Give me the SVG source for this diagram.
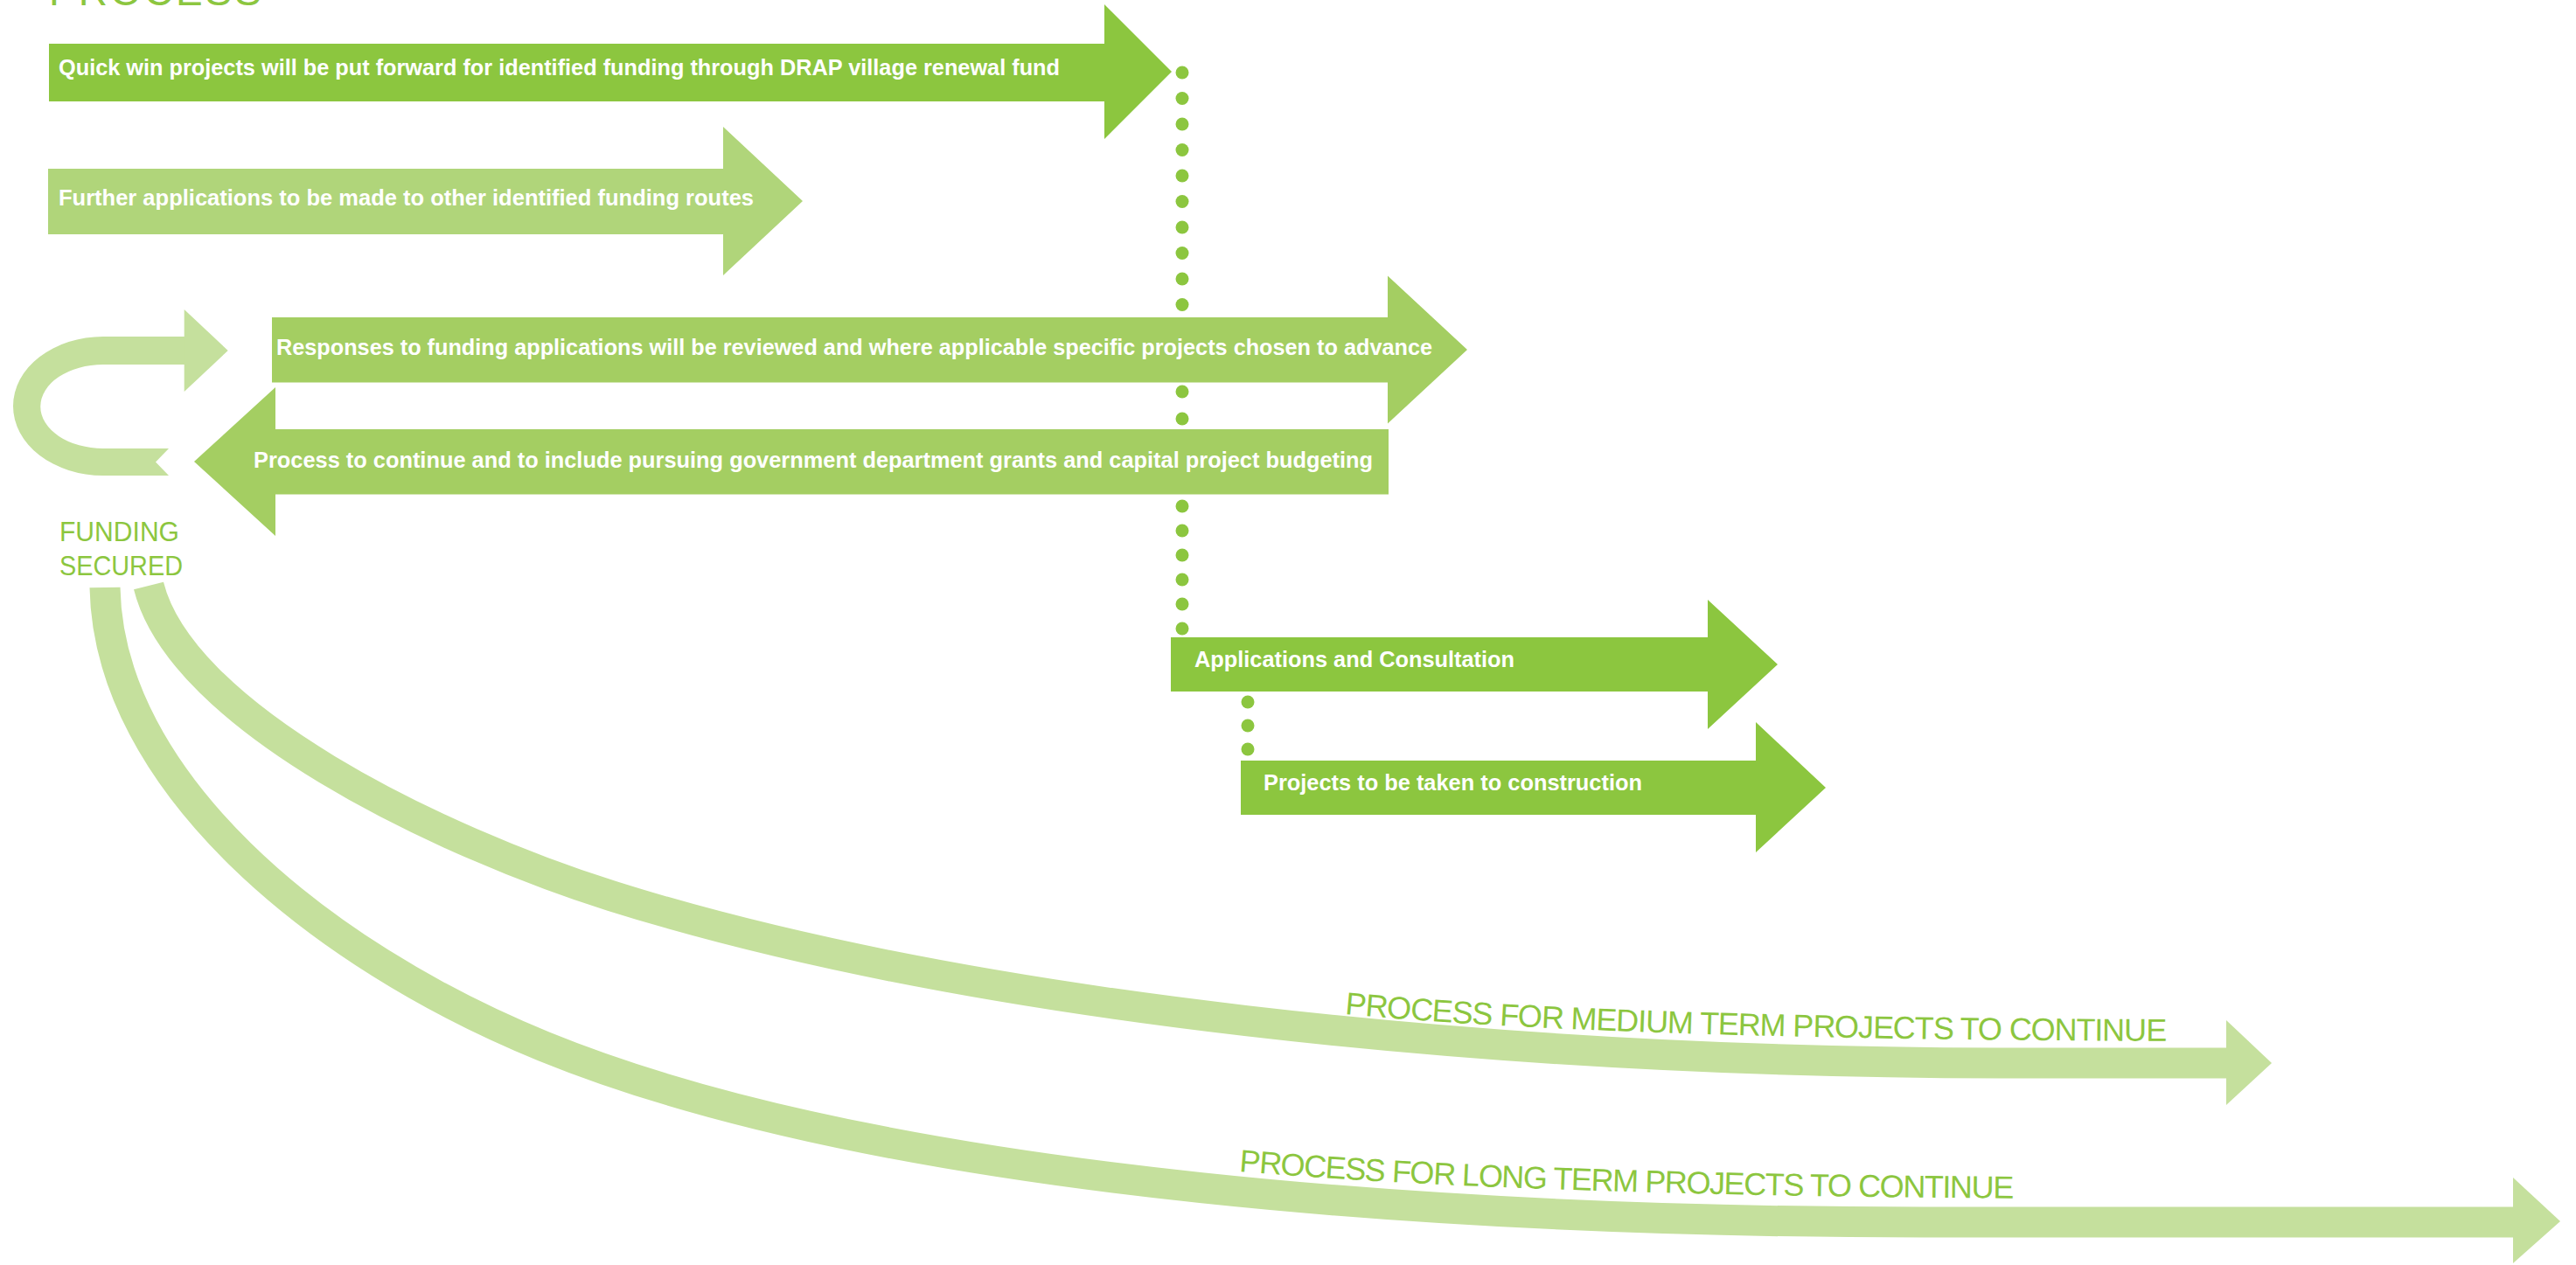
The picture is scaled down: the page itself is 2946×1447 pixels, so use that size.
<svg xmlns="http://www.w3.org/2000/svg" width="2946" height="1447" viewBox="0 0 2946 1447">
<style>
.dark{fill:#8CC63F}
.mid{fill:#A4CE62}
.light{fill:#B0D57A}
.pale{fill:#C5E09D}
.band{fill:none;stroke:#C5E09D;stroke-width:35}
.dot{fill:#8CC63F}
.lbl{font-family:'Liberation Sans',Arial,sans-serif;font-weight:bold;font-size:25px;fill:#ffffff}
.grn{font-family:'Liberation Sans',Arial,sans-serif;fill:#8CC63F}
</style>
<rect width="2946" height="1447" fill="#ffffff"/>

<g id="title">
<text class="grn" x="56" y="6" font-size="46" letter-spacing="3">PROCESS</text>
</g>

<g id="connectors">
<path class="band" d="M120,672 C124,892 362,1091 622,1197 C1022,1360 1700,1398 2200,1398 L2876,1398"/>
<polygon class="pale" points="2874,1347 2928,1397 2874,1445"/>
<path class="band" d="M170,670 C207.5,820 500,962 700,1025 C1100,1150.6 1700,1216 2300,1216 L2548,1216"/>
<polygon class="pale" points="2546,1167 2598,1216 2546,1264"/>
<g id="dots-main">
<circle class="dot" cx="1352" cy="83" r="7.5"/>
<circle class="dot" cx="1352" cy="112.5" r="7.5"/>
<circle class="dot" cx="1352" cy="142" r="7.5"/>
<circle class="dot" cx="1352" cy="171.5" r="7.5"/>
<circle class="dot" cx="1352" cy="201" r="7.5"/>
<circle class="dot" cx="1352" cy="230.5" r="7.5"/>
<circle class="dot" cx="1352" cy="260" r="7.5"/>
<circle class="dot" cx="1352" cy="289.5" r="7.5"/>
<circle class="dot" cx="1352" cy="319" r="7.5"/>
<circle class="dot" cx="1352" cy="348.5" r="7.5"/>
<circle class="dot" cx="1352" cy="448" r="7.5"/>
<circle class="dot" cx="1352" cy="479" r="7.5"/>
<circle class="dot" cx="1352" cy="579" r="7.5"/>
<circle class="dot" cx="1352" cy="607" r="7.5"/>
<circle class="dot" cx="1352" cy="635" r="7.5"/>
<circle class="dot" cx="1352" cy="663" r="7.5"/>
<circle class="dot" cx="1352" cy="691" r="7.5"/>
<circle class="dot" cx="1352" cy="719" r="7.5"/>
</g>
<g id="dots-second">
<circle class="dot" cx="1427" cy="803" r="7.5"/>
<circle class="dot" cx="1427" cy="830" r="7.5"/>
<circle class="dot" cx="1427" cy="857" r="7.5"/>
</g>
</g>

<g id="loop">
<path class="pale" d="M211,385 L118,385 A103,79.5 0 0 0 118,544 L193,544 L178,528.5 L193,513 L118,513 A71,47.5 0 0 1 118,417 L211,417 Z"/>
<polygon class="pale" points="210.7,354 260.7,401 210.7,448"/>
</g>

<g id="funding-secured">
<text class="grn" x="68" y="619" font-size="32" textLength="137" lengthAdjust="spacingAndGlyphs">FUNDING</text>
<text class="grn" x="68" y="658" font-size="32" textLength="141" lengthAdjust="spacingAndGlyphs">SECURED</text>
</g>

<g id="arrow1">
<polygon class="dark" points="56,50 1263,50 1263,5 1340,82 1263,159 1263,116 56,116"/>
<text class="lbl" x="67" y="86" textLength="1145" lengthAdjust="spacingAndGlyphs">Quick win projects will be put forward for identified funding through DRAP village renewal fund</text>
</g>

<g id="arrow2">
<polygon class="light" points="55,193 827,193 827,145 918,230 827,315 827,268 55,268"/>
<text class="lbl" x="67" y="235" textLength="795" lengthAdjust="spacingAndGlyphs">Further applications to be made to other identified funding routes</text>
</g>

<g id="arrow3">
<polygon class="mid" points="311,363 1587,363 1587,315.5 1678,400 1587,484.5 1587,437.5 311,437.5"/>
<text class="lbl" x="316" y="406" textLength="1322" lengthAdjust="spacingAndGlyphs">Responses to funding applications will be reviewed and where applicable specific projects chosen to advance</text>
</g>

<g id="arrow4">
<polygon class="mid" points="1588,491 315,491 315,443 222,528 315,613 315,565.5 1588,565.5"/>
<text class="lbl" x="290" y="535" textLength="1280" lengthAdjust="spacingAndGlyphs">Process to continue and to include pursuing government department grants and capital project budgeting</text>
</g>

<g id="arrow5">
<polygon class="dark" points="1339,729 1953,729 1953,686 2033,760 1953,834 1953,791 1339,791"/>
<text class="lbl" x="1366" y="763" textLength="366" lengthAdjust="spacingAndGlyphs">Applications and Consultation</text>
</g>

<g id="arrow6">
<polygon class="dark" points="1419,870 2008,870 2008,826 2088,901 2008,975 2008,932 1419,932"/>
<text class="lbl" x="1445" y="904" textLength="433" lengthAdjust="spacingAndGlyphs">Projects to be taken to construction</text>
</g>

<defs>
<path id="medPath" d="M1538,1160 Q1850,1190 2550,1191"/>
<path id="longPath" d="M1417,1340 Q1750,1368 2350,1371"/>
</defs>

<g id="medium-label">
<text class="grn" font-size="36" letter-spacing="-1.1"><textPath href="#medPath">PROCESS FOR MEDIUM TERM PROJECTS TO CONTINUE</textPath></text>
</g>
<g id="long-label">
<text class="grn" font-size="36" letter-spacing="-1.4"><textPath href="#longPath">PROCESS FOR LONG TERM PROJECTS TO CONTINUE</textPath></text>
</g>
</svg>
